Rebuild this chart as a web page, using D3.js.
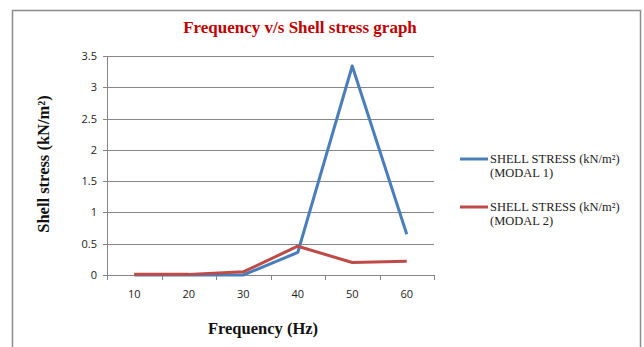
<!DOCTYPE html>
<html><head><meta charset="utf-8">
<title>Frequency v/s Shell stress graph</title>
<script src="https://cdn.jsdelivr.net/npm/d3@7"></script>
<style>
body { margin: 0; background: #fff; }
.serif { font-family: "Liberation Serif", "Times New Roman", Times, "DejaVu Serif", serif; }
.sans { font-family: "Open Sans", "Liberation Sans", sans-serif; }
</style>
</head>
<body>
<script>
// chart data
var frequencies = ["10", "20", "30", "40", "50", "60"];
var modal1 = [0, 0, 0, 0.36, 3.34, 0.65];
var modal2 = [0.01, 0.01, 0.05, 0.46, 0.2, 0.22];
var yTicks = [0, 0.5, 1, 1.5, 2, 2.5, 3, 3.5];
var seriesNames = ["SHELL STRESS (kN/m\u00B2)", "SHELL STRESS (kN/m\u00B2)"];
var seriesSub = ["(MODAL 1)", "(MODAL 2)"];
var colors = ["#4a7ebb", "#be4b48"];

var width = 644, height = 347;
var svg = d3.select("body").append("svg").attr("width", width).attr("height", height);

// outer chart border
svg.append("rect")
	.attr("x", 12.5).attr("y", 10.5)
	.attr("width", 628).attr("height", 360)
	.attr("fill", "none").attr("stroke", "#8c8c8c").attr("stroke-width", 1.5);

var plot = {left: 107, right: 434, top: 56, bottom: 275};

var x = d3.scaleBand().domain(frequencies).range([plot.left, plot.right]);
var y = d3.scaleLinear().domain([0, 3.5]).range([plot.bottom, plot.top]);

// gridlines + y ticks
svg.append("g").selectAll("line").data(yTicks).enter().append("line")
	.attr("x1", plot.left - 4).attr("x2", plot.right)
	.attr("y1", function(d) { return Math.round(y(d)) + 0.5; })
	.attr("y2", function(d) { return Math.round(y(d)) + 0.5; })
	.attr("stroke", "#878787").attr("stroke-width", 1);

svg.append("g").selectAll("text").data(yTicks).enter().append("text")
	.attr("class", "sans")
	.attr("x", plot.left - 10)
	.attr("y", function(d) { return y(d) + 4; })
	.attr("text-anchor", "end")
	.attr("font-size", "11px")
	.attr("fill", "#222")
	.text(function(d) { return d; });

// y axis line
svg.append("line")
	.attr("x1", plot.left + 0.5).attr("x2", plot.left + 0.5)
	.attr("y1", plot.top).attr("y2", plot.bottom)
	.attr("stroke", "#878787");

// x ticks at band boundaries
var xBounds = frequencies.map(function(d) { return x(d); }).concat([plot.right]);
svg.append("g").selectAll("line").data(xBounds).enter().append("line")
	.attr("x1", function(d) { return Math.round(d) + 0.5; })
	.attr("x2", function(d) { return Math.round(d) + 0.5; })
	.attr("y1", plot.bottom).attr("y2", plot.bottom + 5)
	.attr("stroke", "#878787");

svg.append("g").selectAll("text").data(frequencies).enter().append("text")
	.attr("class", "sans")
	.attr("x", function(d) { return x(d) + x.bandwidth() / 2; })
	.attr("y", plot.bottom + 23)
	.attr("text-anchor", "middle")
	.attr("font-size", "11px")
	.attr("fill", "#222")
	.text(function(d) { return d; });

// series lines
var line = d3.line()
	.x(function(d, i) { return x(frequencies[i]) + x.bandwidth() / 2; })
	.y(function(d) { return y(d); });

[modal1, modal2].forEach(function(s, i) {
	svg.append("path")
		.attr("d", line(s))
		.attr("fill", "none")
		.attr("stroke", colors[i])
		.attr("stroke-width", 3)
		.attr("stroke-linejoin", "round");
});

// titles
svg.append("text")
	.attr("class", "serif")
	.attr("x", 300).attr("y", 33)
	.attr("text-anchor", "middle")
	.attr("font-weight", "bold")
	.attr("font-size", "17px")
	.attr("fill", "#c00000")
	.text("Frequency v/s Shell stress graph");

svg.append("text")
	.attr("class", "serif")
	.attr("x", 263).attr("y", 334)
	.attr("text-anchor", "middle")
	.attr("font-weight", "bold")
	.attr("font-size", "16.5px")
	.attr("fill", "#111")
	.text("Frequency (Hz)");

svg.append("text")
	.attr("class", "serif")
	.attr("transform", "translate(49,164) rotate(-90)")
	.attr("text-anchor", "middle")
	.attr("font-weight", "bold")
	.attr("font-size", "16.5px")
	.attr("fill", "#111")
	.text("Shell stress (kN/m\u00B2)");

// legend
var legend = svg.append("g").selectAll("g").data(seriesNames).enter().append("g")
	.attr("transform", function(d, i) { return "translate(460," + (159 + i * 48) + ")"; });
legend.append("line")
	.attr("x1", 0).attr("x2", 28).attr("y1", 0).attr("y2", 0)
	.attr("stroke", function(d, i) { return colors[i]; })
	.attr("stroke-width", 3);
legend.append("text")
	.attr("class", "serif")
	.attr("x", 30).attr("y", 4)
	.attr("font-size", "12.5px")
	.attr("fill", "#222")
	.text(function(d) { return d; });
legend.append("text")
	.attr("class", "serif")
	.attr("x", 30).attr("y", 18)
	.attr("font-size", "12.5px")
	.attr("fill", "#222")
	.text(function(d, i) { return seriesSub[i]; });
</script>
</body></html>
